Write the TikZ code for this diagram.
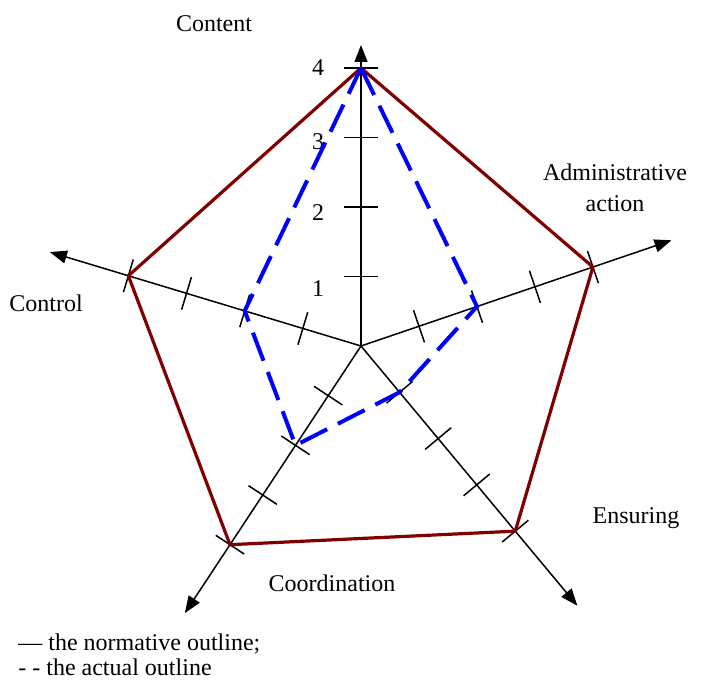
\documentclass[tikz,border=0pt]{standalone}
\usepackage{fontspec}
\setmainfont{Liberation Serif}
\usetikzlibrary{arrows.meta}
\definecolor{normred}{RGB}{128,0,0}
\definecolor{actblue}{RGB}{0,0,255}

\begin{document}
\begin{tikzpicture}[x=0.5pt,y=0.5pt,
    axis/.style={line width=0.75pt,-{Triangle[length=8.5pt,width=6.5pt]}},
    tick/.style={line width=0.75pt},
    normline/.style={normred,line width=1.6pt},
    actline/.style={actblue,line width=2pt,dash pattern=on 15pt off 6pt},
    lbl/.style={font=\fontsize{12}{15.5}\selectfont,inner sep=0pt,align=center}]
    \useasboundingbox (-361,-334) rectangle (349,346);
    \coordinate (O) at (0,0);
    % Axis
    \foreach \ax/\ang/\len/\tip in {cont/90/69.5/301, adm/18.8/61.25/328, ctl/163.2/60.75/325, coo/236.6/59.5/320, ens/-50.2/60.25/338} {
      \coordinate (\ax-tip) at (\ang:\tip);
      \draw[axis] (O) -- (\ax-tip);
      \foreach \k in {1,...,4} {
        \coordinate (\ax-\k) at (\ang:\k*\len);
        \draw[tick] (\ax-\k) ++(\ang+90:17) -- ++(\ang-90:34);
      }
    }
    % scale numbers
    \foreach \n/\y in {4/278,3/204,2/133,1/57}
      \node[lbl] (num\n) at (-43,\y) {\n};

    % normative outline
    \draw[normline] (cont-4) -- (adm-4) -- (ens-4) -- (coo-4) -- (ctl-4) -- cycle;
    % actual outline
    \draw[actline] (cont-4) -- (adm-2) -- (ens-1) -- (coo-2) -- (ctl-2) -- cycle;

    \node[lbl] (content) at (-147,322) {Content};
    \node[lbl] (admin) at (254,158) {Administrative\\action};
    \node[lbl] (control) at (-315,43) {Control};
    \node[lbl] (ensuring) at (275,-172) {Ensuring};
    \node[lbl] (coord) at (-29,-237) {Coordination};
    \node[lbl,anchor=base west] (leg1) at (-343,-304) {— the normative outline;};
    \node[lbl,anchor=base west] (leg2) at (-343,-329) {- - the actual outline};
\end{tikzpicture}
\end{document}
